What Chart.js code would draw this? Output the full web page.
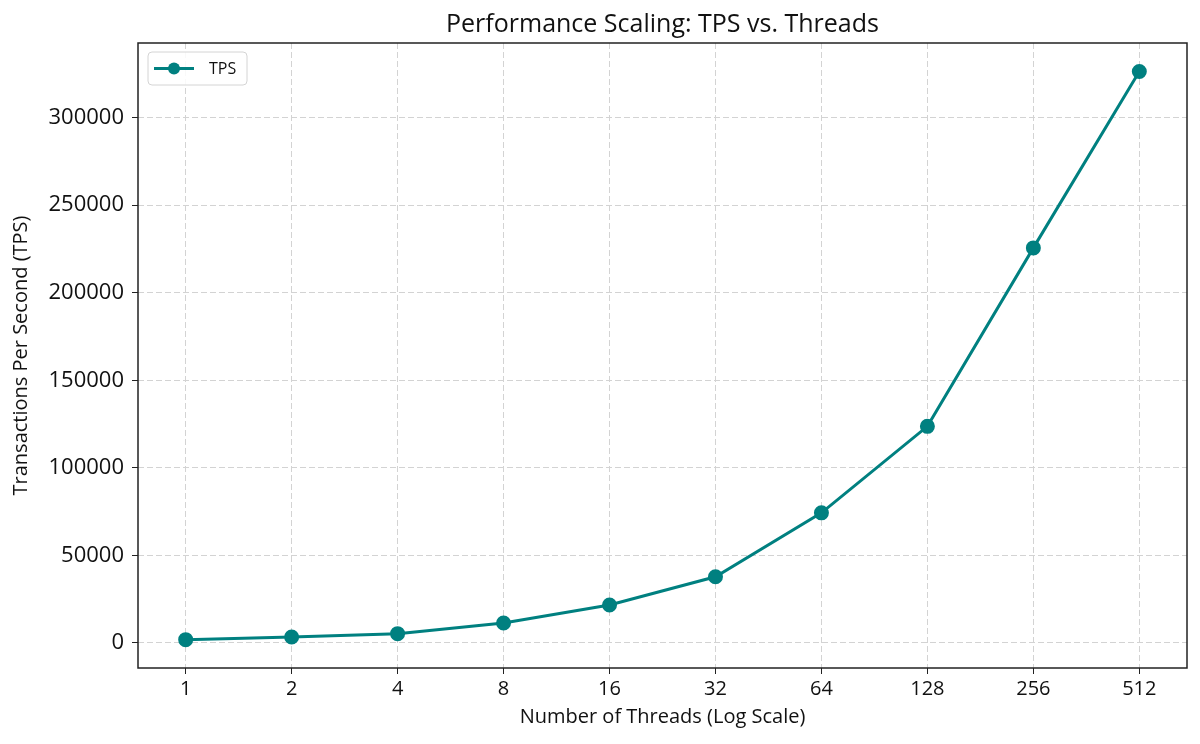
<!DOCTYPE html>
<html>
<head>
<meta charset="utf-8">
<title>Performance Scaling: TPS vs. Threads</title>
<script src="https://cdn.jsdelivr.net/npm/chart.js@4.4.0/dist/chart.umd.min.js"></script>
<style>
  html, body { margin: 0; padding: 0; background: #fff; }
  #wrap { width: 1200px; height: 744px; }
</style>
</head>
<body>
<div id="wrap"><canvas id="chartTps" width="1200" height="744"></canvas></div>
<script>
// data
const threads = [1, 2, 4, 8, 16, 32, 64, 128, 256, 512];
const tps = [1900, 3400, 5300, 11400, 21700, 37800, 74300, 123700, 225600, 326300];
const yTicks = [0, 50000, 100000, 150000, 200000, 250000, 300000];

const teal = "#008080";
const fontName = "'Open Sans', sans-serif";

// frame round the plot area + legend box inside it (matplotlib style)
const framePlugin = {
  id: "frame",
  afterDatasetsDraw(chart) {
    const { ctx, chartArea: a } = chart;
    ctx.save();
    ctx.strokeStyle = "#222";
    ctx.lineWidth = 1.5;
    ctx.strokeRect(a.left, a.top, a.right - a.left, a.bottom - a.top);

    // legend
    const x = a.left + 10, y = a.top + 9, w = 99, h = 33;
    ctx.fillStyle = "rgba(255,255,255,0.85)";
    ctx.strokeStyle = "#d4d4d4";
    ctx.lineWidth = 1;
    ctx.beginPath();
    ctx.roundRect(x, y, w, h, 4);
    ctx.fill();
    ctx.stroke();

    const ly = y + h / 2;
    ctx.strokeStyle = teal;
    ctx.lineWidth = 3;
    ctx.beginPath();
    ctx.moveTo(x + 6, ly);
    ctx.lineTo(x + 46, ly);
    ctx.stroke();
    ctx.fillStyle = teal;
    ctx.beginPath();
    ctx.arc(x + 26, ly, 6, 0, Math.PI * 2);
    ctx.fill();

    ctx.fillStyle = "#111";
    ctx.font = "16px " + fontName;
    ctx.textBaseline = "middle";
    ctx.fillText(chart.data.datasets[0].label, x + 61, ly + 1);
    ctx.restore();
  },
};

const ctx = document.getElementById("chartTps").getContext("2d");

new Chart(ctx, {
  type: "line",
  data: {
    datasets: [
      {
        label: "TPS",
        data: threads.map((t, i) => ({ x: t, y: tps[i] })),
        borderColor: teal,
        backgroundColor: teal,
        borderWidth: 3,
        pointRadius: 6,
        pointHoverRadius: 6,
        tension: 0,
      },
    ],
  },
  options: {
    responsive: false,
    animation: false,
    devicePixelRatio: 1,
    layout: { padding: { left: 0, right: 13, top: 0, bottom: 0 } },
    plugins: {
      legend: { display: false },
      tooltip: { enabled: false },
      title: {
        display: true,
        fullSize: false,
        text: "Performance Scaling: TPS vs. Threads",
        color: "#111",
        font: { family: fontName, size: 25, weight: "normal" },
        padding: { top: 10, bottom: 3 },
      },
    },
    scales: {
      x: {
        type: "logarithmic",
        bounds: "data",
        min: Math.pow(2, -0.45),
        max: Math.pow(2, 9.45),
        afterBuildTicks: (scale) => {
          scale.ticks = threads.map((v) => ({ value: v }));
        },
        afterFit: (scale) => {
          scale.height = 76;
        },
        ticks: {
          color: "#111",
          font: { family: fontName, size: 20 },
          padding: 3,
          maxRotation: 0,
          callback: (v) => String(v),
        },
        grid: {
          color: "#d3d3d3",
          lineWidth: 1,
          tickColor: "#222",
          tickLength: 6,
          tickBorderDash: [],
        },
        border: { display: false, dash: [6, 3] },
        title: {
          display: true,
          text: "Number of Threads (Log Scale)",
          color: "#111",
          font: { family: fontName, size: 20 },
          padding: { top: 0, bottom: 15 },
        },
      },
      y: {
        type: "linear",
        bounds: "data",
        min: -14300,
        max: 342600,
        afterBuildTicks: (scale) => {
          scale.ticks = yTicks.map((v) => ({ value: v }));
        },
        afterFit: (scale) => {
          scale.width = 138;
        },
        ticks: {
          color: "#111",
          font: { family: fontName, size: 22 },
          padding: 8,
          callback: (v) => String(v),
        },
        grid: {
          color: "#d3d3d3",
          lineWidth: 1,
          tickColor: "#222",
          tickLength: 6,
          tickBorderDash: [],
        },
        border: { display: false, dash: [6, 3] },
        title: {
          display: true,
          text: "Transactions Per Second (TPS)",
          color: "#111",
          font: { family: fontName, size: 20 },
          padding: { top: 9, bottom: 0 },
        },
      },
    },
  },
  plugins: [framePlugin],
});
</script>
</body>
</html>
